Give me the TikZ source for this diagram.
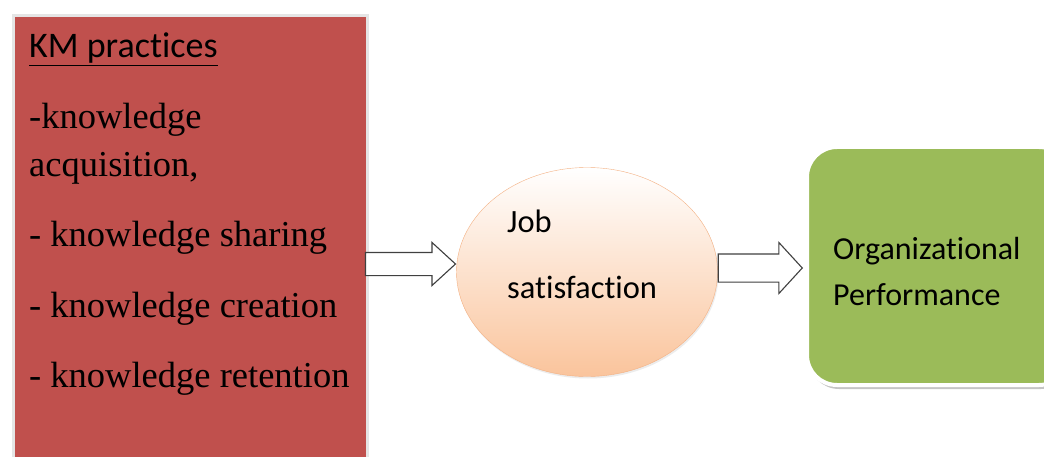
\documentclass[tikz,border=0pt]{standalone}
\usepackage{fontspec}
\setmainfont{Liberation Serif}
\setsansfont{Carlito}[Ligatures=NoCommon]
\usetikzlibrary{positioning}
\usetikzlibrary{shapes.arrows,shapes.geometric,shadows}
\definecolor{kmred}{RGB}{192,80,77}
\definecolor{opgreen}{RGB}{155,187,89}
\definecolor{jspeach}{RGB}{250,196,156}
\definecolor{jsedge}{RGB}{244,177,131}

\begin{document}
\begin{tikzpicture}[x=1pt,y=-1pt,
  kmbox/.style={rectangle,fill=kmred,draw=gray!20,line width=3pt,inner sep=0pt},
  kmtext/.style={anchor=base west,inner sep=0pt,font=\fontsize{36.5}{42}\selectfont},
  jsbox/.style={ellipse,top color=white,bottom color=jspeach,draw=jsedge,thin,inner sep=0pt,
    drop shadow={opacity=0.15,shadow xshift=1pt,shadow yshift=-2pt}},
  sanstext/.style={anchor=base west,inner sep=0pt,font=\sffamily\fontsize{32}{38}\selectfont},
  opbox/.style={rectangle,rounded corners=30pt,fill=opgreen,draw=white,line width=4pt,
    drop shadow={opacity=0.45,shadow xshift=2pt,shadow yshift=-4pt},inner sep=0pt},
  bigarrow/.style={single arrow,draw=black!75,fill=white,line width=1.1pt,inner xsep=0pt,
    single arrow head indent=0pt,shape border rotate=0}]
\fill[white] (0,0) rectangle (1044,457);
\useasboundingbox (0,0) rectangle (1044,457);
\node[kmbox,anchor=north west,minimum width=354,minimum height=460] (km) at (12,14) {};
\node[kmtext,font=\sffamily\fontsize{36}{42}\selectfont] (kmtitle) at (29,58) {\underline{KM practices}};
\node[kmtext] (kma) at (29,129) {-knowledge};
\node[kmtext] (kmb) at (29,177) {acquisition,};
\node[kmtext] (kmc) at (29,247) {- knowledge sharing};
\node[kmtext] (kmd) at (29,317) {- knowledge creation};
\node[kmtext] (kme) at (29,387) {- knowledge retention};
\node[jsbox,minimum width=261,minimum height=209] (js) at (587,272) {};
\node[sanstext,font=\sffamily\fontsize{32.5}{38}\selectfont] (jsa) at (507,233) {Job};
\node[sanstext,font=\sffamily\fontsize{32.5}{38}\selectfont] (jsb) at (507,298) {satisfaction};
\node[opbox,anchor=north west,minimum width=262,minimum height=238] (op) at (805,145) {};
\node[sanstext] (opa) at (833,259) {Organizational};
\node[sanstext] (opb) at (833,305) {Performance};
\node[bigarrow,anchor=tip,minimum height=90,inner ysep=11pt,single arrow tip angle=85,
  single arrow head extend=10pt] (arr1) at ([yshift=8pt]js.west) {};
\node[bigarrow,anchor=tail,minimum height=84,inner ysep=13.5pt,single arrow tip angle=95,
  single arrow head extend=11.5pt] (arr2) at ([yshift=4pt]js.east) {};
\end{tikzpicture}
\end{document}
